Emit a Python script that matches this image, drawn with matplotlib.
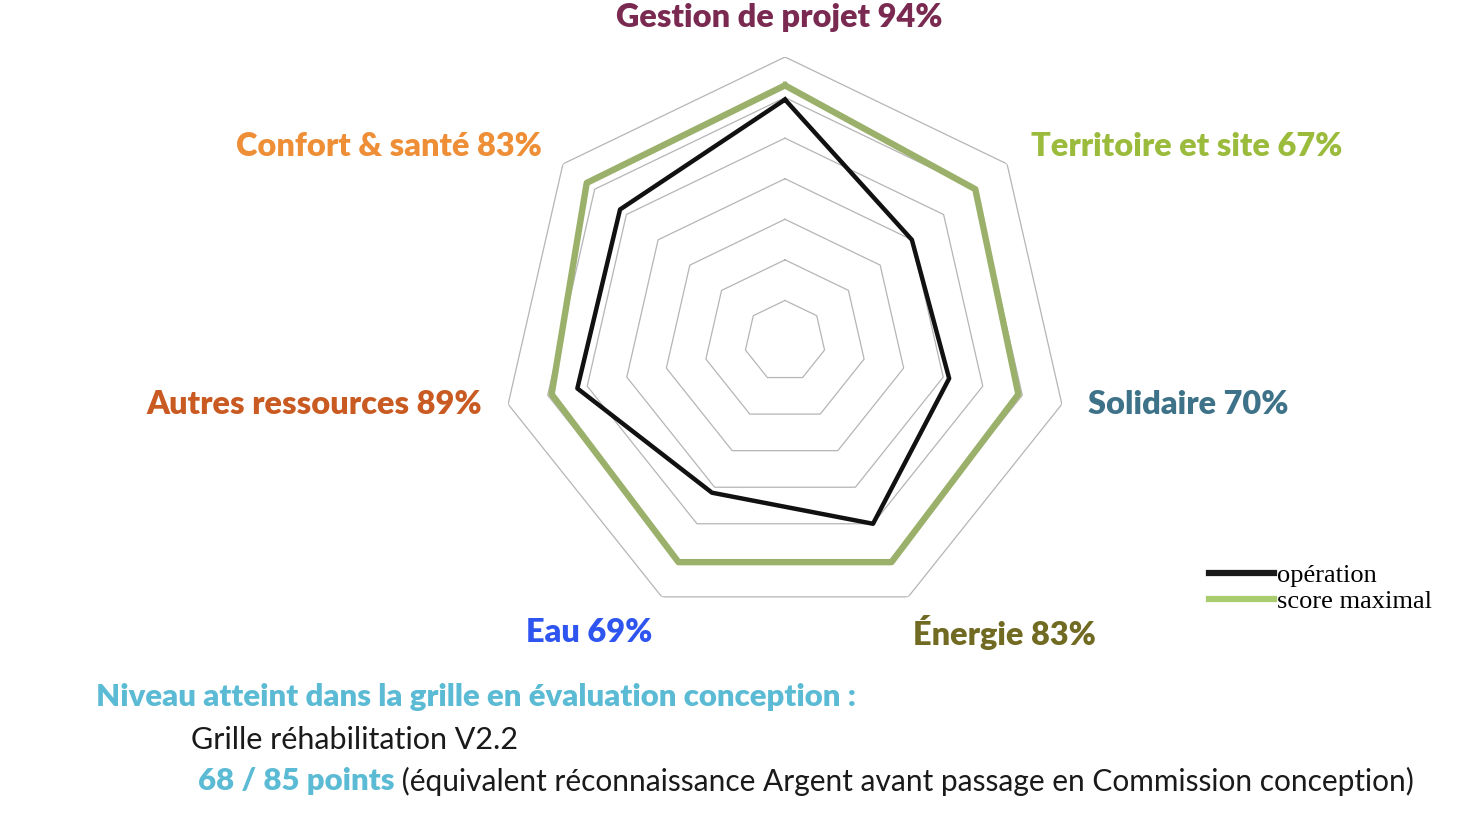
import numpy as np
import matplotlib.pyplot as plt
from matplotlib.lines import Line2D

# categories, clockwise from the top
categories = ['Gestion de projet', 'Territoire et site', 'Solidaire', 'Énergie',
              'Eau', 'Autres ressources', 'Confort & santé']
percents = [94, 67, 70, 83, 69, 89, 83]
operation = [11.9, 8.0, 8.3, 10.0, 8.3, 10.5, 10.4]
score_max = [12.6, 12.0, 11.8, 12.1, 12.1, 11.8, 12.5]
ring_levels = [2, 4, 6, 8, 10, 12, 14]
label_colors = ['#7a2a50', '#9bbb3c', '#3e7288', '#706a22', '#2e55f0', '#c85a22', '#ee8e36']

W, H = 1476, 836
fig = plt.figure(figsize=(W / 100, H / 100), dpi=100)

cx, cy, R = 785, 341, 284
ax = fig.add_axes([(cx - R) / W, (H - cy - R) / H, 2 * R / W, 2 * R / H], polar=True)
ax.set_theta_zero_location('N')
ax.set_theta_direction(-1)
ax.set_ylim(0, 14)
ax.grid(False)
ax.set_xticks([])
ax.set_yticks([])
ax.spines['polar'].set_visible(False)

n = len(categories)
theta = np.linspace(0, 2 * np.pi, n, endpoint=False)
theta_c = np.append(theta, theta[0])

for lev in ring_levels:
    ax.plot(theta_c, [lev] * (n + 1), color='#b5b5b5', lw=0.9, zorder=1)

ax.plot(theta_c, score_max + score_max[:1], color='#9bb16b', lw=4.6, zorder=2)
ax.plot(theta_c, operation + operation[:1], color='#111111', lw=3.2, zorder=3)

# axis labels
label_pos = [(779, 17), (1187, 147), (1188, 404), (1004, 632),
             (589, 632), (314, 404), (389, 147)]
for name, pct, col, (x, y) in zip(categories, percents, label_colors, label_pos):
    fig.text(x / W, 1 - y / H, f'{name} {pct}%', color=col, fontsize=23.4,
             fontweight='heavy', family='Lato', ha='center', va='center')

# legend
handles = [Line2D([], [], color='#1a1a1a', lw=4.5),
           Line2D([], [], color='#a9cc6e', lw=4.5)]
fig.legend(handles, ['opération', 'score maximal'], loc='upper left',
           bbox_to_anchor=(1209 / W, 1 - 564 / H), frameon=False,
           prop={'family': 'Liberation Serif', 'size': 19},
           handlelength=2.45, handletextpad=0.12, labelspacing=0.08, borderpad=0,
           borderaxespad=0)

# bottom text
teal = '#5bbbd4'
fig.text(96 / W, 1 - 697 / H, 'Niveau atteint dans la grille en évaluation conception :',
         color=teal, fontsize=22.4, fontweight='heavy', family='Lato', va='center')
fig.text(191 / W, 1 - 740 / H, 'Grille réhabilitation V2.2', color='#1a1a1a',
         fontsize=22, family='Lato', va='center')
t1 = fig.text(198 / W, 1 - 781 / H, '68 / 85 points', color=teal, fontsize=22.4,
              fontweight='heavy', family='Lato', va='center')
ax.annotate(' (équivalent réconnaissance Argent avant passage en Commission conception)',
            xy=(1, 0.5), xycoords=t1, va='center', ha='left',
            color='#1a1a1a', fontsize=21.5, family='Lato', annotation_clip=False)

fig.savefig('out.png', dpi=100)
